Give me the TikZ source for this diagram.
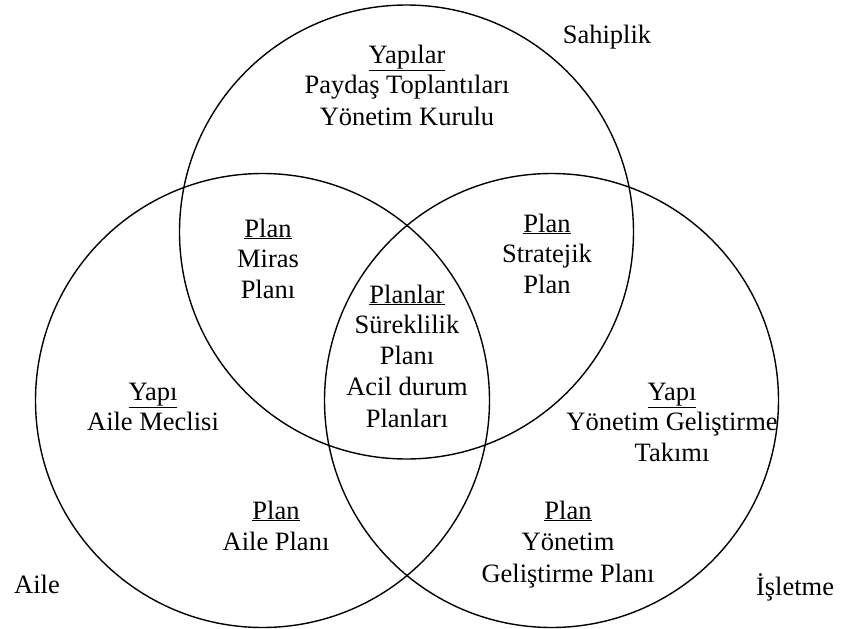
\documentclass[tikz,border=0pt]{standalone}
\usepackage{fontspec}
\setmainfont{Liberation Serif}
\begin{document}
\begin{tikzpicture}[x=1pt,y=-1pt,
  ring/.style={circle,draw,line width=1.4pt,inner sep=0pt,minimum size=454pt},
  lbl/.style={anchor=base,inner sep=0pt,font=\fontsize{26.5}{31}\selectfont}]
\useasboundingbox (0,0) rectangle (849,629);
% the three sets
\node[ring] (own) at (406.5,232) {};
\node[ring] (fam) at (262.5,400.5) {};
\node[ring] (bus) at (551.5,400.5) {};
% set names
\node[lbl] (tOwn) at (607,43) {Sahiplik};
\node[lbl] (tFam) at (37,593) {Aile};
\node[lbl] (tBus) at (795,595) {İşletme};
% ownership only
\node[lbl] (a1) at (407,63) {\underline{Yapılar}};
\node[lbl] (a2) at (407,93) {Paydaş Toplantıları};
\node[lbl] (a3) at (407,125) {Yönetim Kurulu};
% ownership and family
\node[lbl] (b1) at (268,237) {\underline{Plan}};
\node[lbl] (b2) at (268,267) {Miras};
\node[lbl] (b3) at (268,298) {Planı};
% ownership and business
\node[lbl] (c1) at (547,232) {\underline{Plan}};
\node[lbl] (c2) at (547,262) {Stratejik};
\node[lbl] (c3) at (547,293) {Plan};
% all three
\node[lbl] (d1) at (407,303) {\underline{Planlar}};
\node[lbl] (d2) at (407,333) {Süreklilik};
\node[lbl] (d3) at (407,364) {Planı};
\node[lbl] (d4) at (407,395) {Acil durum};
\node[lbl] (d5) at (407,427) {Planları};
% family only
\node[lbl] (e1) at (153,400) {\underline{Yapı}};
\node[lbl] (e2) at (153,430) {Aile Meclisi};
% business only
\node[lbl] (f1) at (672,400) {\underline{Yapı}};
\node[lbl] (f2) at (672,430) {Yönetim Geliştirme};
\node[lbl] (f3) at (672,461) {Takımı};
% family and business
\node[lbl] (g1) at (276,519) {\underline{Plan}};
\node[lbl] (g2) at (276,550) {Aile Planı};
\node[lbl] (h1) at (568,519) {\underline{Plan}};
\node[lbl] (h2) at (568,550) {Yönetim};
\node[lbl] (h3) at (568,582) {Geliştirme Planı};
\end{tikzpicture}
\end{document}
